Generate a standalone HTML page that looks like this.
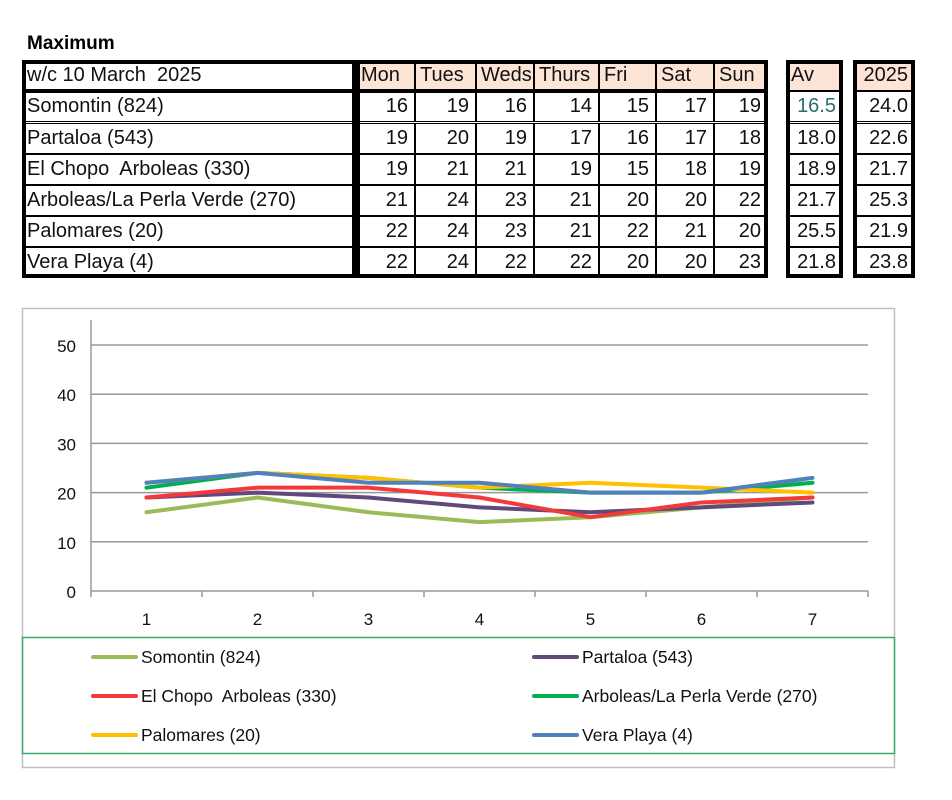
<!DOCTYPE html>
<html><head><meta charset="utf-8">
<style>
body{margin:0;background:#fff;width:952px;height:800px;position:relative;overflow:hidden;font-family:"Liberation Sans",sans-serif;}
.c{position:absolute;box-sizing:border-box;font-size:20px;line-height:29px;color:#111;white-space:pre;overflow:hidden;}
.h{background:#fce4d6;}
#title{position:absolute;left:27px;top:33px;font-weight:bold;font-size:19px;}
</style></head><body>
<div id="title">Maximum</div>
<div id="tbl"></div>
<svg id="chart" width="952" height="800" style="position:absolute;left:0;top:0"></svg>
<script>
const days=["Mon","Tues","Weds","Thurs","Fri","Sat","Sun"];
const stations=["Somontin (824)","Partaloa (543)","El Chopo  Arboleas (330)","Arboleas/La Perla Verde (270)","Palomares (20)","Vera Playa (4)"];
const s0=[16,19,16,14,15,17,19];
const s1=[19,20,19,17,16,17,18];
const s2=[19,21,21,19,15,18,19];
const s3=[21,24,23,21,20,20,22];
const s4=[22,24,23,21,22,21,20];
const s5=[22,24,22,22,20,20,23];
const avg=["16.5","18.0","18.9","21.7","25.5","21.8"];
const y2025=["24.0","22.6","21.7","25.3","21.9","23.8"];
const series=[s0,s1,s2,s3,s4,s5];
const colors=["#9bbb59","#5f4a7b","#f23a3a","#00b050","#ffc000","#4f81bd"];
const xLabels=["1","2","3","4","5","6","7"];
const yTicks=[0,10,20,30,40,50];

const tbl=document.getElementById('tbl');
const colX=[22,356,415,476,534,599,656,714,768];
const rowY=[60,91,123,154,185,216,247,278];
function cell(x,y,w,h,txt,cls,align,name,bw,color){
  const d=document.createElement('div');
  d.className='c '+(cls||'');
  d.style.left=x+'px';d.style.top=y+'px';d.style.width=w+'px';d.style.height=h+'px';
  d.style.border=(bw||1.5)+'px solid #000';
  d.style.textAlign=align;d.style.padding=align==='right'?'0 6px 0 2px':'0 2px 0 4px';
  if(color)d.style.color=color;
  d.textContent=txt;
  
  
  tbl.appendChild(d);
}
function frame(x,y,w,h,name){
  const d=document.createElement('div');
  d.style.cssText='position:absolute;box-sizing:border-box;border:4px solid #000;left:'+x+'px;top:'+y+'px;width:'+w+'px;height:'+h+'px;z-index:2';
  
  
  tbl.appendChild(d);
}
cell(22,60,334,31,"w/c 10 March  2025","","left","header-week",1.5);
days.forEach((d,i)=>cell(colX[i+1],60,colX[i+2]-colX[i+1],31,d,"h","left","header-"+d.toLowerCase()));
cell(786,60,57,31,"Av","h","left","header-av");
cell(853,60,62,31,"2025","h","right","header-2025");
stations.forEach((s,r)=>{
  const y=rowY[r+1],h=31;
  cell(22,y,334,h,s,"","left","station-name");
  series[r].forEach((v,i)=>cell(colX[i+1],y,colX[i+2]-colX[i+1],h,String(v),"","right","value-cell"));
  cell(786,y,57,h,avg[r],"","right","average-cell",1.5,r===0?"#2e6b73":null);
  cell(853,y,62,h,y2025[r],"","right","year-2025-cell");
});
frame(22,60,334,218,'station-frame');
frame(356,60,412,218,'days-frame');
frame(786,60,57,218,'av-frame');
frame(853,60,62,218,'year-frame');
const hl=document.createElement('div');
hl.style.cssText='position:absolute;left:22px;top:89px;width:746px;height:4px;background:#000;z-index:2';


tbl.appendChild(hl);

const svg=document.getElementById('chart');
const NS='http://www.w3.org/2000/svg';
function el(t,a,name){const e=document.createElementNS(NS,t);for(const k in a)e.setAttribute(k,a[k]);svg.appendChild(e);return e;}
const X0=91,X1=868,Y0=591,Y50=345;
const yS=v=>Y0-(v/50)*(Y0-Y50);
const step=(X1-X0)/xLabels.length;
const xS=i=>X0+step*(i+0.5);
el('rect',{x:22.5,y:308.5,width:872,height:459,fill:'none',stroke:'#bfbfbf','stroke-width':1.5},'chart-frame');
yTicks.forEach(t=>{
  if(t>0)el('line',{x1:X0,x2:X1,y1:yS(t),y2:yS(t),stroke:'#999','stroke-width':1.5},'gridline');
  const tx=el('text',{x:76,y:yS(t)+7,'text-anchor':'end','font-size':17,fill:'#111','font-family':'Liberation Sans, sans-serif'},'y-tick-label');
  tx.textContent=t;
});
el('line',{x1:X0,x2:X0,y1:320,y2:Y0,stroke:'#999','stroke-width':1.5},'y-axis');
el('line',{x1:X0,x2:X1,y1:Y0,y2:Y0,stroke:'#999','stroke-width':1.5},'x-axis');
for(let i=0;i<=xLabels.length;i++)el('line',{x1:X0+step*i,x2:X0+step*i,y1:Y0,y2:Y0+6,stroke:'#999','stroke-width':1.5},'x-tick');
xLabels.forEach((l,i)=>{const t=el('text',{x:xS(i),y:625,'text-anchor':'middle','font-size':17,fill:'#111','font-family':'Liberation Sans, sans-serif'},'x-tick-label');t.textContent=l;});
series.forEach((s,k)=>{
  el('polyline',{points:s.map((v,i)=>xS(i)+','+yS(v)).join(' '),fill:'none',stroke:colors[k],'stroke-width':4,'stroke-linejoin':'round','stroke-linecap':'round'},'series-line-'+(k+1));
});
el('rect',{x:22.5,y:637.5,width:872,height:116,fill:'none',stroke:'#3aaa6a','stroke-width':1.5},'legend-box');
const legY=[657,696,735];
stations.forEach((s,k)=>{
  const col=k%2,row=Math.floor(k/2);
  const lx=col?534:93;
  el('line',{x1:lx,x2:lx+43,y1:legY[row],y2:legY[row],stroke:colors[k],'stroke-width':4,'stroke-linecap':'round'},'legend-swatch');
  const t=el('text',{x:lx+48,y:legY[row]+6,'font-size':17.5,fill:'#111','font-family':'Liberation Sans, sans-serif','xml:space':'preserve'},'legend-entry');
  t.style.whiteSpace='pre';
  t.textContent=s;
});
</script>
</body></html>
